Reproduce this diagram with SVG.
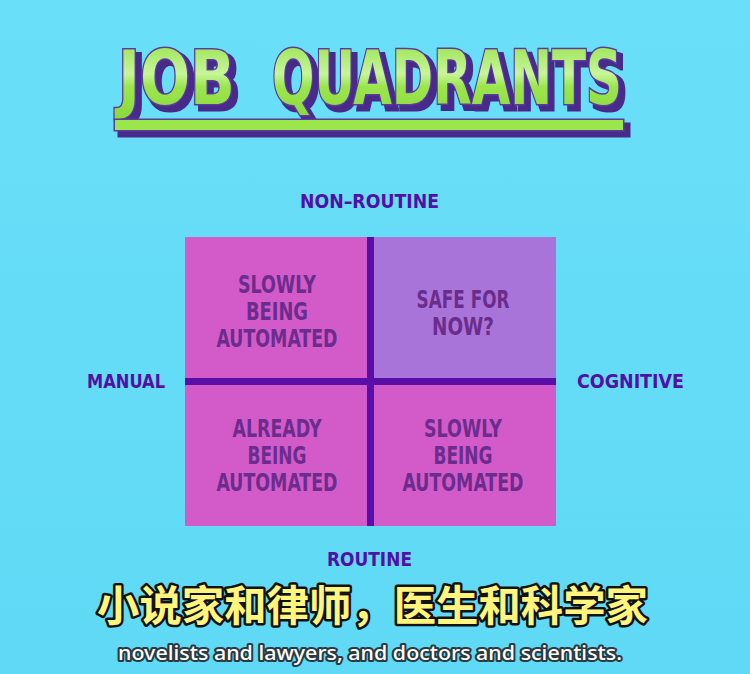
<svg xmlns="http://www.w3.org/2000/svg" width="750" height="674" viewBox="0 0 750 674">
<defs>
<linearGradient id="bg" x1="0" y1="0" x2="0" y2="1">
<stop offset="0" stop-color="#6ADFF9"/>
<stop offset="1" stop-color="#5FD9F5"/>
</linearGradient>
<linearGradient id="tg" x1="0" y1="0" x2="0" y2="1">
<stop offset="0" stop-color="#8FE040"/>
<stop offset="0.45" stop-color="#C8F59A"/>
<stop offset="0.6" stop-color="#9BE64C"/>
<stop offset="1" stop-color="#8AD83C"/>
</linearGradient>
<filter id="shadow" x="-5%" y="-10%" width="115%" height="130%">
<feOffset in="SourceAlpha" dx="5" dy="5" result="o"/>
<feMorphology in="o" operator="dilate" radius="1" result="d"/>
<feFlood flood-color="#4A2A8A"/>
<feComposite in2="d" operator="in" result="s"/>
<feMerge><feMergeNode in="s"/><feMergeNode in="SourceGraphic"/></feMerge>
</filter>
</defs>
<style>
.title{font-family:"DejaVu Sans Condensed","DejaVu Sans",sans-serif;font-weight:bold;font-size:74px;}
.axis{font-family:"DejaVu Sans Condensed","DejaVu Sans",sans-serif;font-weight:bold;font-size:19px;fill:#5210A6;}
.q{font-family:"DejaVu Sans Condensed","DejaVu Sans",sans-serif;font-weight:bold;font-size:25px;fill:#6B2C8C;text-anchor:middle;}
.zh{font-family:"Noto Sans CJK SC",sans-serif;font-weight:bold;font-size:42px;fill:#FFF47C;stroke:#111;stroke-width:5;paint-order:stroke;stroke-linejoin:round;}
.en{font-family:"Noto Sans","DejaVu Sans",sans-serif;font-weight:500;font-size:20px;fill:#FFFFFF;stroke:#2A3A40;stroke-width:4;paint-order:stroke;stroke-linejoin:round;}
</style>
<rect width="750" height="674" fill="url(#bg)"/>
<g id="title" filter="url(#shadow)">
<g fill="url(#tg)" stroke="#5A3AA0" stroke-width="3" paint-order="stroke">
<text class="title" x="118" y="104" textLength="117" lengthAdjust="spacingAndGlyphs">JOB</text>
<text class="title" x="272" y="104" textLength="350" lengthAdjust="spacingAndGlyphs">QUADRANTS</text>
<rect x="115" y="120" width="508" height="10" fill="#9BE64C"/>
</g>
</g>
<g id="quadrant-top-left">
<rect x="185" y="237" width="185" height="144" fill="#D35AC9"/>
<text class="q"><tspan x="277" y="293" textLength="78" lengthAdjust="spacingAndGlyphs">SLOWLY</tspan><tspan x="277" y="320" textLength="62" lengthAdjust="spacingAndGlyphs">BEING</tspan><tspan x="277" y="347" textLength="121" lengthAdjust="spacingAndGlyphs">AUTOMATED</tspan></text>
</g>
<g id="quadrant-top-right">
<rect x="370" y="237" width="186" height="144" fill="#A974D9"/>
<text class="q"><tspan x="463" y="308" textLength="93" lengthAdjust="spacingAndGlyphs">SAFE FOR</tspan><tspan x="463" y="335" textLength="62" lengthAdjust="spacingAndGlyphs">NOW?</tspan></text>
</g>
<g id="quadrant-bottom-left">
<rect x="185" y="381" width="185" height="145" fill="#D35AC9"/>
<text class="q"><tspan x="277" y="437" textLength="89" lengthAdjust="spacingAndGlyphs">ALREADY</tspan><tspan x="277" y="464" textLength="59" lengthAdjust="spacingAndGlyphs">BEING</tspan><tspan x="277" y="491" textLength="121" lengthAdjust="spacingAndGlyphs">AUTOMATED</tspan></text>
</g>
<g id="quadrant-bottom-right">
<rect x="370" y="381" width="186" height="145" fill="#D35AC9"/>
<text class="q"><tspan x="463" y="437" textLength="78" lengthAdjust="spacingAndGlyphs">SLOWLY</tspan><tspan x="463" y="464" textLength="59" lengthAdjust="spacingAndGlyphs">BEING</tspan><tspan x="463" y="491" textLength="121" lengthAdjust="spacingAndGlyphs">AUTOMATED</tspan></text>
</g>
<g id="connectors" fill="#5A0EA8">
<rect x="367" y="237" width="7" height="289"/>
<rect x="185" y="378" width="371" height="7"/>
</g>
<g id="axis-non-routine"><text class="axis" x="300" y="208" textLength="139" lengthAdjust="spacingAndGlyphs">NON–ROUTINE</text></g>
<g id="axis-manual"><text class="axis" x="87" y="388" textLength="78" lengthAdjust="spacingAndGlyphs">MANUAL</text></g>
<g id="axis-cognitive"><text class="axis" x="577" y="388" textLength="107" lengthAdjust="spacingAndGlyphs">COGNITIVE</text></g>
<g id="axis-routine"><text class="axis" x="327" y="566" textLength="85" lengthAdjust="spacingAndGlyphs">ROUTINE</text></g>
<g id="subtitles">
<text class="zh" x="97" y="621" textLength="551" lengthAdjust="spacingAndGlyphs">小说家和律师，医生和科学家</text>
<text class="en" x="118" y="660" textLength="504" lengthAdjust="spacingAndGlyphs">novelists and lawyers, and doctors and scientists.</text>
</g>
</svg>
